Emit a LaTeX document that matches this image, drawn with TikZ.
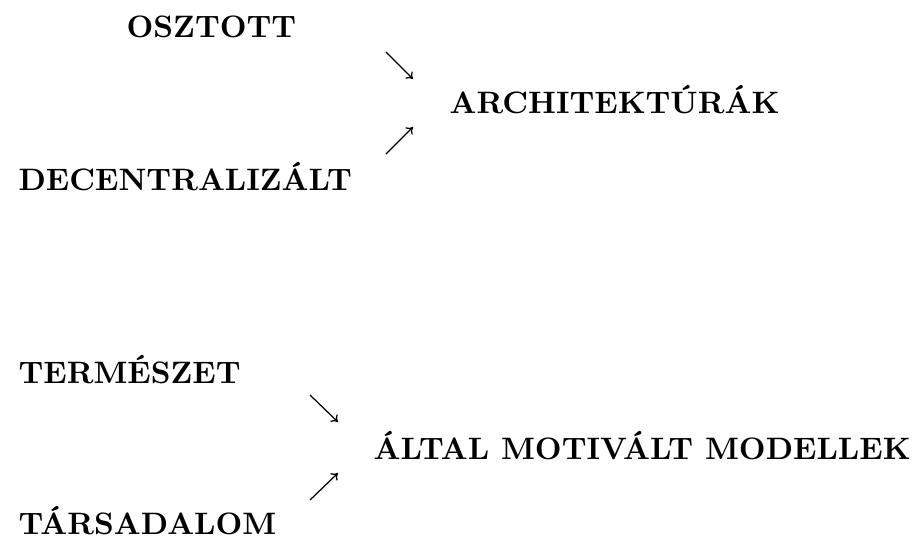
\documentclass[tikz,border=0pt]{standalone}
\usetikzlibrary{arrows.meta}
\begin{document}
\begin{tikzpicture}[x=0.3226pt,y=-0.3226pt,
  lbl/.style={inner sep=0pt,anchor=base west,font=\bfseries},
  arr/.style={line width=0.4pt,-{To[length=2pt,width=3.2pt]}}]
\useasboundingbox (0,0) rectangle (918,541);
\node[lbl] (osz) at (126,37) {OSZTOTT};
\node[lbl] (dec) at (18,190) {DECENTRALIZÁLT};
\node[lbl] (arch) at (449,113) {ARCHITEKTÚRÁK};
\coordinate (a1s) at (386,52); \coordinate (a1e) at (413,79);
\coordinate (a2s) at (386,154); \coordinate (a2e) at (413,127);
\draw[arr] (a1s) -- (a1e);
\draw[arr] (a2s) -- (a2e);
\node[lbl] (ter) at (18,383) {TERMÉSZET};
\node[lbl] (tar) at (18,534) {TÁRSADALOM};
\node[lbl] (alt) at (373,459) {ÁLTAL MOTIVÁLT MODELLEK};
\coordinate (b1s) at (310,395); \coordinate (b1e) at (338,422);
\coordinate (b2s) at (310,500); \coordinate (b2e) at (338,473);
\draw[arr] (b1s) -- (b1e);
\draw[arr] (b2s) -- (b2e);
\end{tikzpicture}
\end{document}
